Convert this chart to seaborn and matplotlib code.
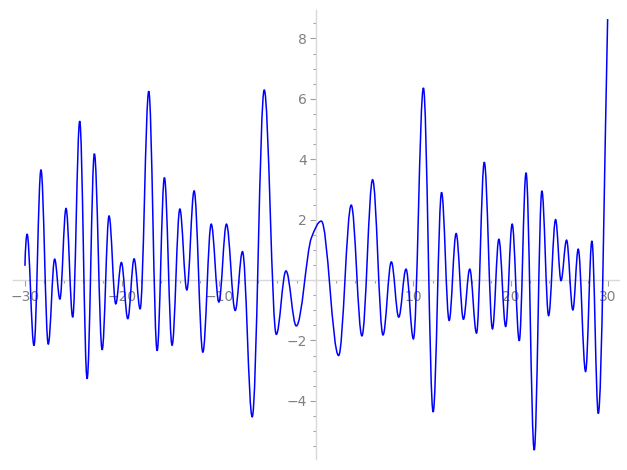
import matplotlib as mpl
mpl.use('agg')
import matplotlib.pyplot as plt
import seaborn as sns
from matplotlib import ticker
from matplotlib.path import Path
from matplotlib.patches import PathPatch

# curve: start point, every local extremum (plus the
# shoulder just left of the origin), end point
curve_x = [-30.0, -29.78, -29.07, -28.35, -27.6, -26.94, -26.4, -25.77, -25.08,
           -24.36, -23.6, -22.85, -22.05, -21.34, -20.65, -20.07, -19.41, -18.76,
           -18.14, -17.25, -16.39, -15.64, -14.85, -14.05, -13.33, -12.58, -11.68,
           -10.82, -10.03, -9.25, -8.35, -7.6, -6.6, -5.36, -4.12, -3.12, -2.06,
           -0.5, 0.52, 2.3, 3.6, 4.7, 5.8, 6.87, 7.73, 8.49, 9.24, 10.0, 11.03, 12.03,
           12.9, 13.68, 14.4, 15.15, 15.8, 16.5, 17.3, 18.14, 18.8, 19.5, 20.17,
           20.9, 21.6, 22.44, 23.23, 23.92, 24.64, 25.2, 25.77, 26.42, 26.97,
           27.73, 28.38, 29.04, 30.0]
curve_y = [0.47, 1.52, -2.17, 3.65, -2.12, 0.69, -0.63, 2.37, -1.23,
           5.26, -3.27, 4.18, -2.31, 2.12, -0.79, 0.58, -1.28, 0.70,
           -0.96, 6.25, -2.34, 3.39, -2.16, 2.35, -0.33, 2.95, -2.39,
           1.85, -0.73, 1.85, -1.01, 0.94, -4.53, 6.29, -1.80, 0.30, -1.52,
           1.40, 1.95, -2.50, 2.48, -1.85, 3.32, -1.82, 0.60, -1.23, 0.36, -1.95, 6.36, -4.37,
           2.90, -1.34, 1.54, -1.30, 0.36, -1.76, 3.90, -1.62, 1.35, -1.54, 1.85,
           -2.01, 3.55, -5.63, 2.95, -1.18, 2.00, -0.02, 1.32, -0.99, 1.02,
           -3.03, 1.29, -4.42, 8.64]

x_major = [-30, -20, -10, 10, 20, 30]
y_major = [-4, -2, 2, 4, 6, 8]

sns.set_style('white')
plt.rcParams['font.family'] = ['DejaVu Sans']

fig = plt.figure(figsize=(6.27, 4.70), dpi=100)
ax = fig.add_axes([0.0212, 0.0232, 0.9665, 0.9555])
ax.set_xlim(-31.2, 31.2)
ax.set_ylim(-5.93, 8.94)

# tangent at each point: flat at extrema, eased chord slope elsewhere
n = len(curve_x)
slopes = []
for i in range(n):
    if i == 0 or i == n - 1:
        slopes.append(None)
        continue
    d0 = curve_y[i] - curve_y[i - 1]
    d1 = curve_y[i + 1] - curve_y[i]
    if d0 * d1 > 0:
        slopes.append(0.6 * (curve_y[i + 1] - curve_y[i - 1]) / (curve_x[i + 1] - curve_x[i - 1]))
    else:
        slopes.append(0.0)

verts = [(curve_x[0], curve_y[0])]
codes = [Path.MOVETO]
for i in range(n - 1):
    x0, y0, x1, y1 = curve_x[i], curve_y[i], curve_x[i + 1], curve_y[i + 1]
    dx = x1 - x0
    if slopes[i] is None:
        c0 = (x0 + 0.18 * dx, y0 + 0.55 * (y1 - y0))
    elif slopes[i] == 0:
        c0 = (x0 + 0.364 * dx, y0)
    else:
        c0 = (x0 + dx / 3, y0 + slopes[i] * dx / 3)
    if slopes[i + 1] is None:
        c1 = (x1 - 0.3 * dx, y1 - 0.3 * (y1 - y0))
    elif slopes[i + 1] == 0:
        c1 = (x1 - 0.364 * dx, y1)
    else:
        c1 = (x1 - dx / 3, y1 - slopes[i + 1] * dx / 3)
    verts += [c0, c1, (x1, y1)]
    codes += [Path.CURVE4] * 3
ax.add_patch(PathPatch(Path(verts, codes), facecolor='none', edgecolor='#0000ff',
                       linewidth=1.1, zorder=3))

# axes through the origin
for side in ['top', 'right']:
    ax.spines[side].set_visible(False)
for side in ['left', 'bottom']:
    ax.spines[side].set_position(('data', 0))
    ax.spines[side].set_color('#d9d9d9')
    ax.spines[side].set_linewidth(1.0)

ax.xaxis.set_major_locator(ticker.FixedLocator(x_major))
ax.yaxis.set_major_locator(ticker.FixedLocator(y_major))
ax.xaxis.set_minor_locator(ticker.MultipleLocator(2))
ax.yaxis.set_minor_locator(ticker.MultipleLocator(0.5))
ax.tick_params(which='both', direction='out', bottom=True, left=True,
               color='#a0a0a0', labelcolor='#808080', labelsize=10, width=0.8)
ax.tick_params(which='major', length=4, pad=3)
ax.tick_params(which='minor', length=2.5)

plt.savefig('out.png', dpi=100)
